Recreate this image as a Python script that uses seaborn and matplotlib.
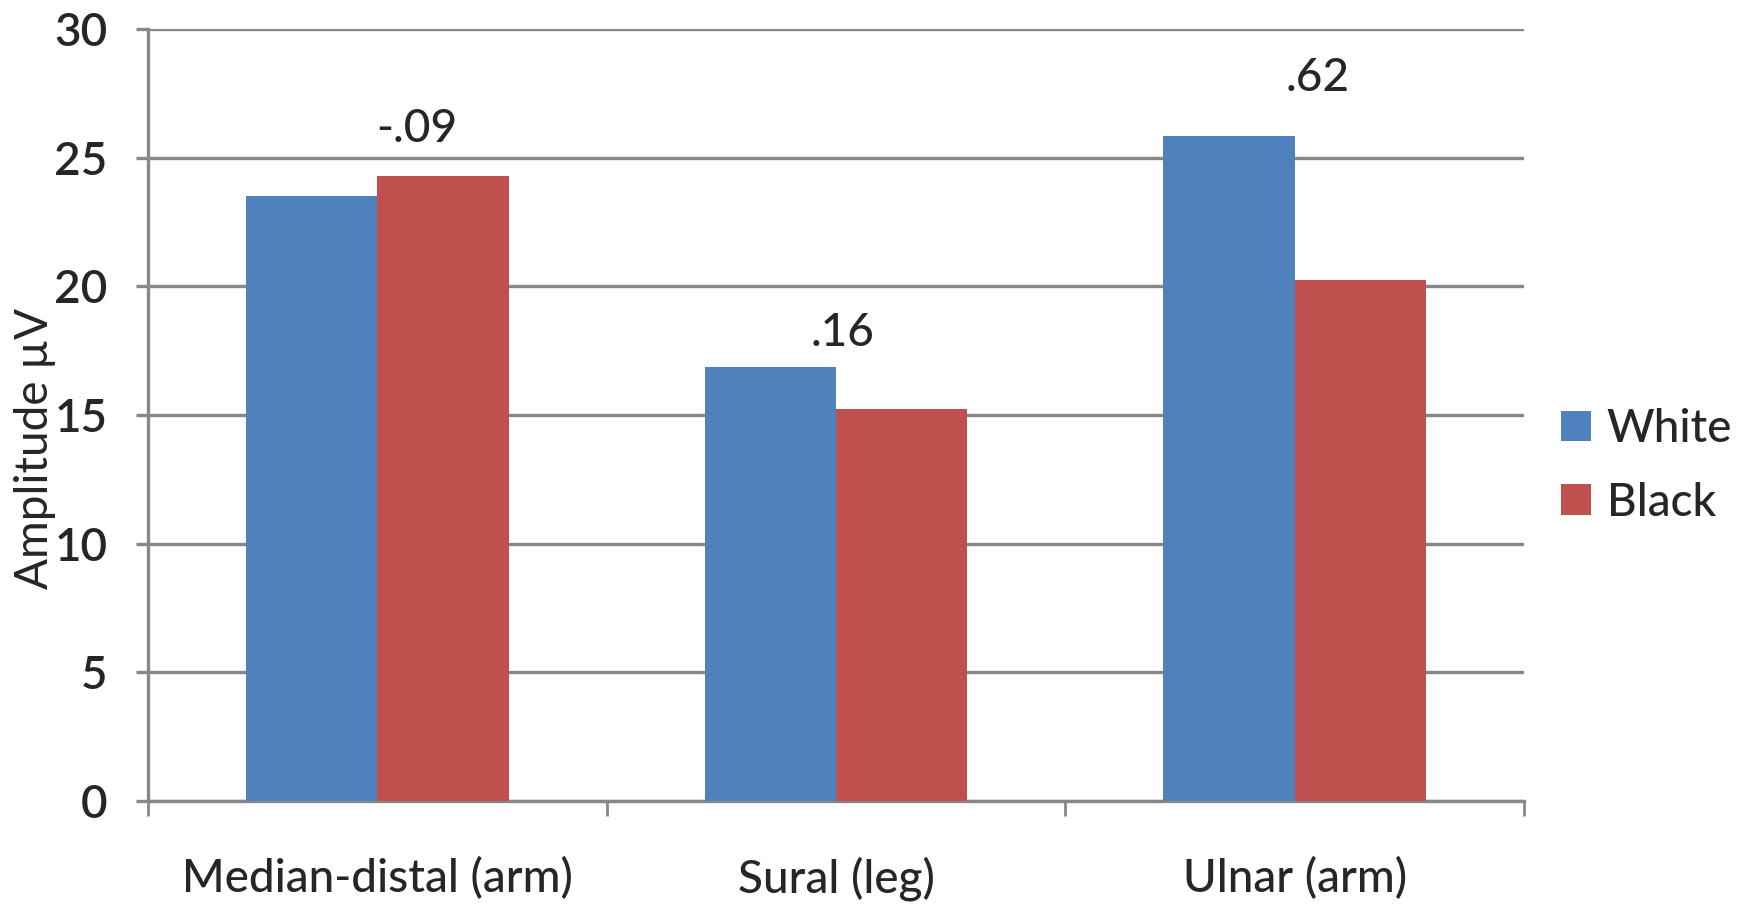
import matplotlib
matplotlib.use("Agg")
import matplotlib.pyplot as plt
from matplotlib.patches import Patch
import seaborn as sns
import pandas as pd

# Mean sensory nerve action potential amplitudes by nerve and group
nerves = ["Median-distal (arm)", "Sural (leg)", "Ulnar (arm)"]
groups = ["White", "Black"]
white_amp = [23.5, 16.85, 25.85]
black_amp = [24.3, 15.25, 20.25]
effect_labels = ["-.09", ".16", ".62"]
effect_y = [26.1, 18.2, 28.1]
effect_dx = [0.085, 0.015, 0.05]
y_ticks = [0, 5, 10, 15, 20, 25, 30]

colors = {"White": "#4F81BD", "Black": "#C0504D"}
grid_gray = "#878787"
FS = 33

df = pd.DataFrame({
    "nerve": nerves * 2,
    "group": ["White"] * len(nerves) + ["Black"] * len(nerves),
    "amp": white_amp + black_amp,
})

sns.set_theme(style="white")
plt.rcParams["font.family"] = ["Lato", "DejaVu Sans"]

fig = plt.figure(figsize=(17.48, 9.05), dpi=100)
ax = fig.add_axes([148 / 1748, 1 - 801 / 905, (1524 - 148) / 1748, (801 - 29) / 905])

sns.barplot(data=df, x="nerve", y="amp", hue="group", order=nerves,
            hue_order=groups, palette=colors, width=0.572, gap=0,
            saturation=1, linewidth=0, legend=False, ax=ax, zorder=3)

ax.set_ylim(0, 30)
ax.set_xlim(-0.5, len(nerves) - 0.5)
ax.set_yticks(y_ticks)
ax.set_yticklabels([str(t) for t in y_ticks])
ax.yaxis.grid(True, color=grid_gray, linewidth=2.4, zorder=0)
ax.set_axisbelow(True)

# category labels centred under groups, tick marks at group boundaries
ax.set_xticks(range(len(nerves)))
ax.set_xticklabels(nerves)
ax.set_xticks([i - 0.5 for i in range(len(nerves) + 1)], minor=True)
ax.tick_params(axis="x", which="major", length=0, pad=40, labelsize=FS)
ax.tick_params(axis="x", which="minor", length=11, width=2, color=grid_gray,
               bottom=True)
ax.tick_params(axis="y", which="major", length=9, width=2.4, color=grid_gray,
               pad=20, labelsize=FS, left=True)
for lbl in ax.get_yticklabels():
    lbl.set_fontweight("semibold")
for lbl in ax.get_xticklabels():
    lbl.set_fontweight("medium")

ax.set_xlabel("")
ax.set_ylabel("Amplitude µV", fontsize=FS)
ax.yaxis.set_label_coords(-0.067, 0.456)

for side in ["top", "right"]:
    ax.spines[side].set_visible(False)
for side in ["left", "bottom"]:
    ax.spines[side].set_color(grid_gray)
    ax.spines[side].set_linewidth(2.4)

for i, (txt, y, dx) in enumerate(zip(effect_labels, effect_y, effect_dx)):
    ax.text(i + dx, y, txt, ha="center", va="center", fontsize=FS,
            fontweight="medium")

handles = [Patch(facecolor=colors[g], edgecolor="none", label=g) for g in groups]
leg = fig.legend(handles=handles, loc="upper left",
                 bbox_to_anchor=(1561 / 1748, 1 - 408 / 905), frameon=False,
                 fontsize=FS, handlelength=0.65, handleheight=0.65,
                 handletextpad=0.35, labelspacing=0.69, borderpad=0,
                 borderaxespad=0)
for t in leg.get_texts():
    t.set_fontweight("medium")

fig.savefig("out.png", dpi=100, facecolor="white")
